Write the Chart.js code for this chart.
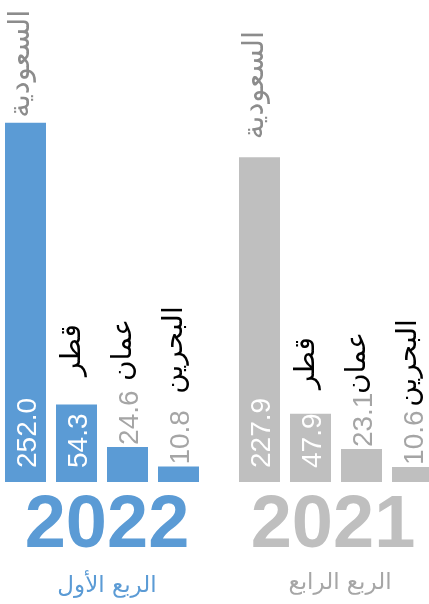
<!DOCTYPE html>
<html><head><meta charset="utf-8">
<script src="https://cdn.jsdelivr.net/npm/chart.js@4/dist/chart.umd.min.js"></script>
<style>
html,body{margin:0;padding:0;background:#fff;overflow:hidden;width:429px;height:604px;}
#wrap{position:relative;width:429px;height:604px;overflow:hidden;}
canvas{position:absolute;top:0;}
</style></head><body>
<div id="wrap">
<canvas id="c1" width="204" height="604" style="left:0"></canvas>
<canvas id="c2" width="204" height="604" style="left:234px"></canvas>
</div>
<script>
// ---- data ----
const countries = ['السعودية', 'قطر', 'عمان', 'البحرين'];
const values2022Q1 = [252.0, 54.3, 24.6, 10.8];
const values2021Q4 = [227.9, 47.9, 23.1, 10.6];
const years = ['2022', '2021'];
const quarters = ['الربع الأول', 'الربع الرابع'];

const BLUE = '#5b9bd5';
const GREY = '#bfbfbf';

const barText = {
  id: 'barText',
  afterDatasetsDraw(chart, args, o) {
    const ctx = chart.ctx;
    const meta = chart.getDatasetMeta(0);
    const ys = chart.scales.y;
    const base = ys.getPixelForValue(0);
    const vals = chart.data.datasets[0].data;
    const levelPx = ys.getPixelForValue(o.labelLevel);
    meta.data.forEach((bar, i) => {
      const v = vals[i];
      const cx = bar.x, top = bar.y;
      // value text
      ctx.save();
      ctx.font = '28px "Liberation Sans", Arial, sans-serif';
      const inside = v >= o.insideMin;
      ctx.fillStyle = inside ? '#ffffff' : o.valueColor;
      const startY = inside ? base - 14 : top - 2;
      ctx.translate(cx + 10, startY);
      ctx.rotate(-Math.PI / 2);
      ctx.textAlign = 'left';
      ctx.textBaseline = 'alphabetic';
      ctx.fillText(v.toFixed(1), 0, 0);
      ctx.restore();
      // country label
      ctx.save();
      ctx.textBaseline = 'middle';
      const lab = chart.data.labels[i];
      if (top < levelPx) {
        ctx.font = o.topLabelFont;
        ctx.fillStyle = o.topLabelColor;
        ctx.translate(cx + o.labelDx, top - o.topGap);
        ctx.rotate(-Math.PI / 2);
        ctx.textAlign = 'left';
      } else {
        ctx.font = o.labelFont;
        ctx.fillStyle = '#000000';
        ctx.translate(cx + o.labelDx, levelPx);
        ctx.rotate(-Math.PI / 2);
        ctx.textAlign = 'center';
      }
      ctx.fillText(lab, 0, 0);
      ctx.restore();
    });
  }
};

const groupTitle = {
  id: 'groupTitle',
  afterDraw(chart, args, o) {
    const ctx = chart.ctx;
    const ca = chart.chartArea;
    const cx = (ca.left + ca.right) / 2;
    ctx.save();
    ctx.textAlign = 'center';
    ctx.textBaseline = 'alphabetic';
    ctx.fillStyle = o.color;
    ctx.font = 'bold 74px "Liberation Sans", Arial, sans-serif';
    ctx.fillText(o.year, cx + o.yearDx, ca.bottom + 65);
    ctx.fillStyle = o.subColor;
    ctx.font = '23px "DejaVu Sans", sans-serif';
    ctx.fillText(o.quarter, cx + o.quarterDx, ca.bottom + o.quarterDy);
    ctx.restore();
  }
};

function makeChart(id, values, color, opt) {
  return new Chart(document.getElementById(id), {
    type: 'bar',
    data: {
      labels: countries,
      datasets: [{
        data: values,
        backgroundColor: color,
        borderWidth: 0,
        barPercentage: 41 / 51,
        categoryPercentage: 1
      }]
    },
    options: {
      responsive: false,
      animation: false,
      devicePixelRatio: 1,
      layout: { padding: { left: 0, right: 0, top: 0, bottom: 122 } },
      scales: {
        x: { display: false },
        y: { display: false, min: 0, max: 338.2 }
      },
      plugins: {
        legend: { display: false },
        tooltip: { enabled: false },
        barText: {
          insideMin: 40,
          valueColor: '#a5a5a5',
          labelLevel: opt.labelLevel,
          labelDx: -4,
          topGap: opt.topGap,
          labelFont: '28px "DejaVu Sans", sans-serif',
          topLabelFont: '29px "DejaVu Sans", sans-serif',
          topLabelColor: '#8c8c8c'
        },
        groupTitle: {
          year: opt.year,
          quarter: opt.quarter,
          color: color,
          subColor: opt.subColor,
          yearDx: opt.yearDx,
          quarterDx: opt.quarterDx,
          quarterDy: opt.quarterDy
        }
      }
    },
    plugins: [barText, groupTitle]
  });
}

makeChart('c1', values2022Q1, BLUE, {
  labelLevel: 92.6, topGap: 5, year: years[0], quarter: quarters[0],
  subColor: BLUE, yearDx: 5, quarterDx: 5, quarterDy: 110
});
makeChart('c2', values2021Q4, GREY, {
  labelLevel: 83.5, topGap: 18, year: years[1], quarter: quarters[1],
  subColor: '#a6a6a6', yearDx: -3, quarterDx: 4, quarterDy: 107
});
</script>
</body></html>
